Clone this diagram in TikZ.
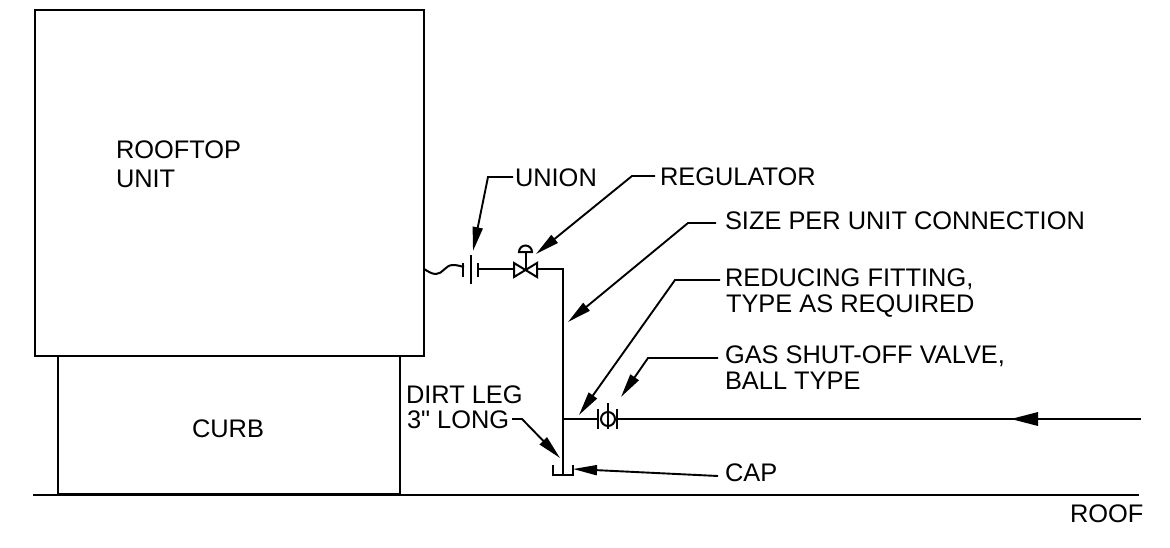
\documentclass[tikz,border=0pt]{standalone}
\usepackage{fontspec}
\newfontfamily\plainf{Liberation Sans}
\usetikzlibrary{arrows.meta}
\tikzset{
  pipe/.style={line width=2pt,line cap=butt,line join=miter},
  thin pipe/.style={line width=2pt},
  leader/.style={line width=1.9pt,-{Triangle[length=24pt,width=10pt]}},
  lbl/.style={inner sep=0pt,outer sep=0pt,anchor=base west,font=\plainf\fontsize{25.4}{28}\selectfont},
}
\begin{document}
\begin{tikzpicture}[x=1pt,y=-1pt]
\useasboundingbox (0,0) rectangle (1170,547);
\fill[white] (0,0) rectangle (1170,547);
% building blocks
\node[draw,pipe,minimum width=388.5pt,minimum height=346pt,inner sep=0pt,outer sep=0pt,anchor=center] (unit) at (229.25,183) {};
\node[draw,pipe,minimum width=342pt,minimum height=138pt,inner sep=0pt,outer sep=0pt,anchor=center] (curb) at (229,425) {};
\coordinate (roofL) at (33,494.5); \coordinate (roofR) at (1139,494.5);
\draw[pipe] (roofL) -- (roofR);
% texts
\node[lbl] (tRooftop) at (116,158) {ROOFTOP};
\node[lbl] (tUnit) at (116,187) {UNIT};
\node[lbl] (tCurb) at (192,437) {CURB};
\node[lbl] (tDirtA) at (406,403) {DIRT LEG};
\node[lbl] (tDirtB) at (407,428) {3" LONG};
\node[lbl] (tUnion) at (515,186) {UNION};
\node[lbl] (tReg) at (660,185) {REGULATOR};
\node[lbl] (tSize) at (725,229) {SIZE PER UNIT CONNECTION};
\node[lbl] (tRedA) at (725,286) {REDUCING FITTING,};
\node[lbl] (tRedB) at (726,312) {TYPE AS REQUIRED};
\node[lbl] (tGasA) at (725,363) {GAS SHUT-OFF VALVE,};
\node[lbl] (tGasB) at (725,389) {BALL TYPE};
\node[lbl] (tCap) at (725,481) {CAP};
\node[lbl] (tRoof) at (1070,522) {ROOF};
% pipe
\coordinate (wave0) at (424,269); \coordinate (waveA) at (436,274); \coordinate (waveB) at (453,265); \coordinate (wave1) at (464,267);
\draw[thin pipe] (wave0) .. controls (429,272) and (432,274) .. (waveA) .. controls (443,274) and (445,265) .. (waveB) .. controls (457,265) and (460,266) .. (wave1);
\coordinate (uL1) at (463,263); \coordinate (uL2) at (463,277);
\coordinate (uM1) at (471,255); \coordinate (uM2) at (471,284);
\coordinate (uR1) at (478,263); \coordinate (uR2) at (478,277);
\draw[pipe] (uL1) -- (uL2) (uM1) -- (uM2) (uR1) -- (uR2);
\coordinate (uR) at (478,269); \coordinate (vL) at (514,269);
\draw[pipe] (uR) -- (vL);
\coordinate (v1) at (514,263); \coordinate (v2) at (537,277); \coordinate (v3) at (537,263); \coordinate (v4) at (514,277);
\draw[pipe] (v1) -- (v2) -- (v3) -- (v4) -- cycle;
\coordinate (vC) at (525.5,270); \coordinate (vT) at (525.5,252);
\draw[pipe] (vC) -- (vT);
\draw[pipe] (519,252) arc[start angle=180,end angle=360,radius=6.5] -- cycle;
\coordinate (vR) at (537,269); \coordinate (corner) at (563,269); \coordinate (legEnd) at (563,475);
\draw[pipe] (vR) -- (corner) -- (legEnd);
\coordinate (c1) at (553,465); \coordinate (c2) at (553,475); \coordinate (c3) at (573,475); \coordinate (c4) at (573,465);
\draw[pipe] (c1) -- (c2) -- (c3) -- (c4);
\coordinate (tee) at (563,419); \coordinate (bL) at (598,419); \coordinate (bR) at (617,419); \coordinate (pipeEnd) at (1141,419);
\draw[pipe] (tee) -- (bL) (bR) -- (pipeEnd);
\draw[pipe] (598,409) -- (598,429) (617,409) -- (617,429) (608,403) -- (608,429);
\draw[pipe] (608,419) circle[radius=7];
\fill (1011,419) -- (1038,412) -- (1038,426) -- cycle;
% leaders
\coordinate (e1) at (513,177); \coordinate (e2) at (488,177); \coordinate (e3) at (473,251);
\draw[leader] (e1) -- (e2) -- (e3);
\coordinate (r1) at (655,176); \coordinate (r2) at (632,176); \coordinate (r3) at (536,254);
\draw[leader] (r1) -- (r2) -- (r3);
\coordinate (s1) at (716,223); \coordinate (s2) at (688,223); \coordinate (s3) at (568,322);
\draw[leader] (s1) -- (s2) -- (s3);
\coordinate (f1) at (720,280); \coordinate (f2) at (675,280); \coordinate (f3) at (579,415);
\draw[leader] (f1) -- (f2) -- (f3);
\coordinate (g1) at (718,358); \coordinate (g2) at (648,358); \coordinate (g3) at (621,397);
\draw[leader] (g1) -- (g2) -- (g3);
\coordinate (d1) at (512,419); \coordinate (d2) at (522,419); \coordinate (d3) at (560,458);
\draw[leader] (d1) -- (d2) -- (d3);
\coordinate (k1) at (718,476); \coordinate (k2) at (573,469);
\draw[leader] (k1) -- (k2);
\end{tikzpicture}
\end{document}
